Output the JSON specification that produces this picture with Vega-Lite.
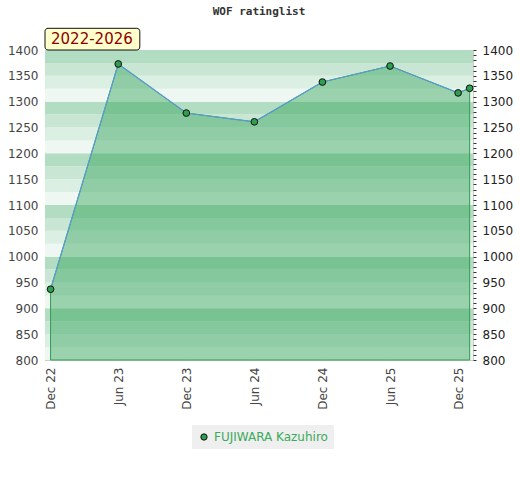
{
  "$schema": "https://vega.github.io/schema/vega-lite/v6.json",
  "width": 428,
  "height": 310,
  "autosize": {"type": "none"},
  "padding": {"left": 45, "top": 50, "right": 47, "bottom": 120},
  "background": "white",
  "title": {
    "text": "WOF ratinglist",
    "font": "DejaVu Sans Mono",
    "fontSize": 11,
    "fontWeight": "bold",
    "color": "#333333",
    "anchor": "middle",
    "offset": 11
  },
  "config": {
    "view": {"stroke": "#cccccc", "strokeWidth": 1},
    "axis": {"labelFont": "DejaVu Sans", "labelFontSize": 12, "grid": false}
  },
  "datasets": {
    "bands": [
      {"lo": 800, "hi": 825, "shade": 0}, {"lo": 825, "hi": 850, "shade": 1}, {"lo": 850, "hi": 875, "shade": 2}, {"lo": 875, "hi": 900, "shade": 3},
      {"lo": 900, "hi": 925, "shade": 0}, {"lo": 925, "hi": 950, "shade": 1}, {"lo": 950, "hi": 975, "shade": 2}, {"lo": 975, "hi": 1000, "shade": 3},
      {"lo": 1000, "hi": 1025, "shade": 0}, {"lo": 1025, "hi": 1050, "shade": 1}, {"lo": 1050, "hi": 1075, "shade": 2}, {"lo": 1075, "hi": 1100, "shade": 3},
      {"lo": 1100, "hi": 1125, "shade": 0}, {"lo": 1125, "hi": 1150, "shade": 1}, {"lo": 1150, "hi": 1175, "shade": 2}, {"lo": 1175, "hi": 1200, "shade": 3},
      {"lo": 1200, "hi": 1225, "shade": 0}, {"lo": 1225, "hi": 1250, "shade": 1}, {"lo": 1250, "hi": 1275, "shade": 2}, {"lo": 1275, "hi": 1300, "shade": 3},
      {"lo": 1300, "hi": 1325, "shade": 0}, {"lo": 1325, "hi": 1350, "shade": 1}, {"lo": 1350, "hi": 1375, "shade": 2}, {"lo": 1375, "hi": 1400, "shade": 3}
    ],
    "ratings": [
      {"date": "2022-12-01", "rating": 937, "player": "FUJIWARA Kazuhiro"},
      {"date": "2023-06-01", "rating": 1373, "player": "FUJIWARA Kazuhiro"},
      {"date": "2023-12-01", "rating": 1278, "player": "FUJIWARA Kazuhiro"},
      {"date": "2024-06-01", "rating": 1261, "player": "FUJIWARA Kazuhiro"},
      {"date": "2024-12-01", "rating": 1338, "player": "FUJIWARA Kazuhiro"},
      {"date": "2025-06-01", "rating": 1369, "player": "FUJIWARA Kazuhiro"},
      {"date": "2025-12-01", "rating": 1317, "player": "FUJIWARA Kazuhiro"},
      {"date": "2026-01-01", "rating": 1326, "player": "FUJIWARA Kazuhiro"}
    ],
    "period": [{"label": "2022-2026"}]
  },
  "resolve": {"axis": {"y": "independent"}},
  "layer": [
    {
      "data": {"name": "bands"},
      "mark": {"type": "rect"},
      "encoding": {
        "y": {
          "field": "lo", "type": "quantitative",
          "scale": {"domain": [800, 1400], "nice": false, "zero": false},
          "axis": {
            "orient": "left", "title": null, "format": "d",
            "values": [800, 850, 900, 950, 1000, 1050, 1100, 1150, 1200, 1250, 1300, 1350, 1400],
            "ticks": false, "domain": true, "domainColor": "#cccccc", "labelColor": "#444444", "labelPadding": 7
          }
        },
        "y2": {"field": "hi"},
        "color": {
          "field": "shade", "type": "ordinal",
          "scale": {"domain": [0, 1, 2, 3], "range": ["#eff7f2", "#dcefe3", "#c8e6d3", "#b3ddc2"]},
          "legend": null
        }
      }
    },
    {
      "data": {"name": "ratings"},
      "mark": {"type": "area", "fill": "#33a55a", "fillOpacity": 0.45, "stroke": "#2e9e4f", "strokeWidth": 1},
      "encoding": {
        "x": {
          "field": "date", "type": "temporal",
          "scale": {"type": "utc", "domain": ["2022-11-16", "2026-01-10"]},
          "axis": {
            "title": null, "labelExpr": "utcFormat(datum.value, '%b %y')", "labelAngle": -90,
            "values": ["2022-12-01", "2023-06-01", "2023-12-01", "2024-06-01", "2024-12-01", "2025-06-01", "2025-12-01"],
            "ticks": false, "domainColor": "#cccccc", "labelColor": "#444444", "labelPadding": 7
          }
        },
        "y": {"field": "rating", "type": "quantitative", "axis": null},
        "y2": {"datum": 800}
      }
    },
    {
      "data": {"name": "ratings"},
      "mark": {"type": "line", "color": "#5b9bd5", "strokeWidth": 1.2},
      "encoding": {
        "x": {"field": "date", "type": "temporal"},
        "y": {"field": "rating", "type": "quantitative", "axis": null}
      }
    },
    {
      "data": {"name": "ratings"},
      "mark": {"type": "point", "filled": true, "size": 45, "stroke": "#111111", "strokeWidth": 1, "opacity": 1},
      "encoding": {
        "x": {"field": "date", "type": "temporal"},
        "y": {
          "field": "rating", "type": "quantitative",
          "axis": {
            "orient": "right", "title": null, "format": "d",
            "values": [800, 810, 820, 830, 840, 850, 860, 870, 880, 890, 900, 910, 920, 930, 940, 950, 960, 970, 980, 990, 1000, 1010, 1020, 1030, 1040, 1050, 1060, 1070, 1080, 1090, 1100, 1110, 1120, 1130, 1140, 1150, 1160, 1170, 1180, 1190, 1200, 1210, 1220, 1230, 1240, 1250, 1260, 1270, 1280, 1290, 1300, 1310, 1320, 1330, 1340, 1350, 1360, 1370, 1380, 1390, 1400],
            "labelExpr": "datum.value % 50 === 0 ? datum.label : ''",
            "labelOverlap": false, "labelBound": false,
            "domain": false, "ticks": true, "tickSize": 3, "tickColor": "#333333",
            "labelColor": "#222222", "labelPadding": 6
          }
        },
        "fill": {
          "field": "player", "type": "nominal",
          "scale": {"range": ["#2e9e4f"]},
          "legend": {
            "title": null, "orient": "none", "legendX": 147, "legendY": 375,
            "fillColor": "#efefef", "padding": 6,
            "symbolType": "circle", "symbolSize": 40, "symbolStrokeColor": "#111111", "symbolStrokeWidth": 1,
            "labelColor": "#3aaa5c", "labelFont": "DejaVu Sans", "labelFontSize": 12
          }
        }
      }
    },
    {
      "data": {"name": "period"},
      "mark": {"type": "rect", "fill": "#ffffcc", "stroke": "#111111", "strokeWidth": 1, "cornerRadius": 3},
      "encoding": {
        "x": {"datum": {"year": 2022, "month": 11, "date": 16, "utc": true}, "type": "temporal"},
        "x2": {"datum": {"year": 2023, "month": 7, "date": 29, "utc": true}},
        "y": {"datum": 1400, "type": "quantitative", "axis": null},
        "y2": {"datum": 1442}
      }
    },
    {
      "data": {"name": "period"},
      "mark": {"type": "text", "align": "left", "baseline": "middle", "dx": 6, "font": "DejaVu Sans", "fontSize": 15, "color": "#8b0000"},
      "encoding": {
        "x": {"datum": {"year": 2022, "month": 11, "date": 16, "utc": true}, "type": "temporal"},
        "y": {"datum": 1421, "type": "quantitative", "axis": null},
        "text": {"field": "label"}
      }
    }
  ]
}
